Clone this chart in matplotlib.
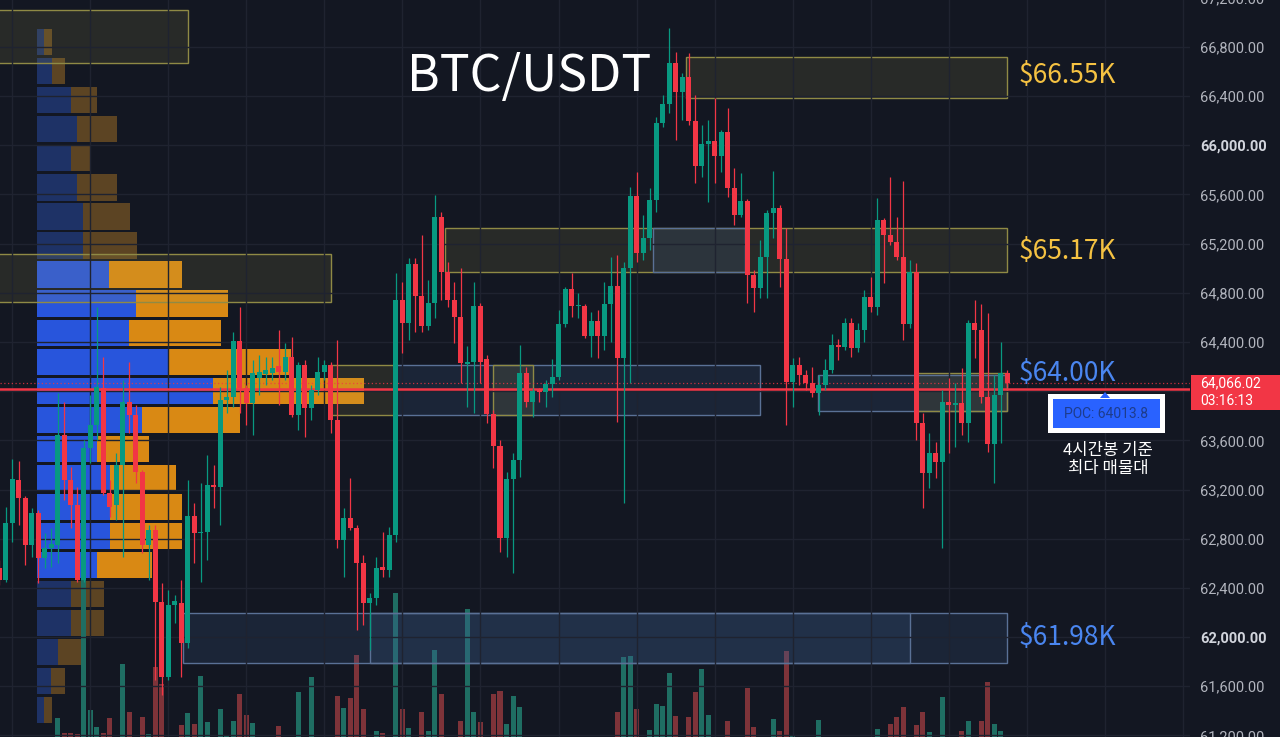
import numpy as np
import matplotlib.pyplot as plt
from matplotlib.patches import Rectangle, Polygon

plt.rcParams['font.family'] = ['Noto Sans CJK KR', 'DejaVu Sans']

# 4h candles, oldest first (prices in USDT)
opens = [62561, 62464, 62927, 63277, 63131, 62748, 63009, 62643, 62724, 62748,
         63643, 63277, 63074, 62464, 63537, 63725, 64026, 63171, 63074, 63399,
         63912, 63806, 63342, 62748, 62870, 62285, 61675, 62260, 62277, 61951,
         62984, 62846, 62854, 63237, 63220, 63928, 63952, 64408, 64026, 63904,
         64107, 64140, 64148, 64205, 64156, 64278, 63806, 64213, 63863, 64009,
         64156, 64213, 63765, 62789, 62968, 62887, 62602, 62277, 62317, 62569,
         62545, 62830, 64742, 64554, 65034, 64774, 64530, 64717, 65417, 64969,
         64742, 64603, 64221, 64237, 64693, 64262, 63814, 63554, 62805, 63285,
         63440, 64148, 63912, 64009, 63993, 64058, 64115, 64546, 64831, 64693,
         64693, 64449, 64571, 64449, 64709, 64855, 64270, 65002, 65588, 65124,
         65246, 65555, 66181, 66336, 66670, 66434, 66556, 66198, 65832, 66011,
         66035, 65913, 66108, 65653, 65433, 65547, 64945, 64839, 65091, 65449,
         65490, 65075, 64074, 64213, 64131, 64066, 63985, 64050, 64172, 64375,
         64359, 64554, 64351, 64497, 64766, 64685, 65392, 65270, 65213, 65091,
         64546, 64969, 63741, 63334, 63497, 63424, 63912, 63887, 63904, 63741,
         64554, 64497, 63952, 63570, 63969, 64148]
highs = [62626, 63058, 63448, 63432, 63147, 63049, 63033, 62846, 62887, 63985,
         63912, 63383, 63220, 63603, 63969, 64685, 64278, 63277, 63497, 64091,
         64237, 63887, 63359, 62911, 62911, 62439, 62382, 62342, 62464, 63277,
         63090, 63253, 63481, 63399, 64034, 64172, 64481, 64685, 64050, 64253,
         64294, 64278, 64278, 64497, 64392, 64441, 64237, 64253, 64050, 64278,
         64253, 64237, 64416, 63049, 63294, 62911, 62667, 62358, 62651, 62854,
         62895, 64961, 64888, 65083, 65083, 65270, 64904, 65596, 65457, 65051,
         64888, 65002, 64367, 64888, 64717, 64294, 63847, 63603, 63342, 63497,
         64375, 64196, 64026, 64026, 64091, 64262, 64660, 64847, 64961, 64798,
         64709, 64644, 64660, 64888, 65091, 65108, 65051, 65661, 65783, 65433,
         65653, 66230, 66409, 66954, 66759, 66588, 66751, 66409, 66165, 66206,
         66385, 66124, 66303, 65815, 65775, 65563, 64986, 65230, 65474, 65791,
         65514, 65327, 64270, 64278, 64172, 64196, 64131, 64262, 64465, 64424,
         64595, 64595, 64554, 64823, 64929, 65571, 65409, 65742, 65417, 65710,
         65067, 65043, 63822, 63660, 63586, 64009, 64107, 64066, 64188, 64579,
         64742, 64709, 64636, 64131, 64400, 64172]
lows = [62423, 62447, 62773, 62911, 62586, 62651, 62439, 62561, 62569, 62602,
        63114, 62887, 62447, 62447, 63415, 63603, 63155, 62976, 62952, 62651,
        63660, 63253, 62683, 62464, 61650, 61528, 61650, 62114, 61675, 61911,
        62602, 62447, 62626, 63049, 62911, 63822, 63871, 63822, 63725, 63643,
        63969, 64050, 64091, 63887, 64091, 63790, 63684, 63627, 63765, 63969,
        64091, 63660, 62724, 62488, 62870, 62057, 62098, 61894, 62260, 62488,
        62488, 62773, 64310, 64416, 64481, 64481, 64497, 64595, 64742, 64685,
        64392, 64066, 63871, 63822, 64066, 63741, 63375, 62692, 62651, 62521,
        63302, 63871, 63790, 63912, 63871, 63952, 64091, 64522, 64603, 64595,
        64432, 64278, 64270, 64335, 64400, 63749, 63090, 64066, 65051, 65067,
        65148, 65457, 66149, 66263, 66043, 66206, 66165, 65693, 65742, 65539,
        65693, 65783, 65579, 65352, 65417, 64717, 64644, 64758, 64758, 65246,
        64847, 63725, 63871, 64050, 64009, 63952, 63806, 64009, 64148, 64253,
        64335, 64278, 64318, 64400, 64644, 64620, 64880, 65189, 65067, 64416,
        64514, 63603, 63049, 63212, 63294, 62724, 63497, 63546, 63643, 63586,
        64270, 63904, 63505, 63253, 63578, 64034]
closes = [62464, 62927, 63285, 63131, 62748, 63009, 62643, 62724, 62757, 63643,
          63277, 63074, 62464, 63537, 63725, 64034, 63171, 63058, 63399, 63912,
          63806, 63342, 62748, 62870, 62285, 61675, 62260, 62293, 61951, 62984,
          62846, 62854, 63237, 63220, 63928, 63952, 64408, 64026, 63904, 64148,
          64156, 64172, 64188, 64156, 64278, 63806, 64213, 63863, 64009, 64156,
          64213, 63765, 62789, 62968, 62887, 62602, 62277, 62317, 62561, 62545,
          62830, 64742, 64554, 65034, 64774, 64530, 64717, 65417, 64969, 64742,
          64603, 64229, 64237, 64693, 64237, 63814, 63554, 62805, 63285, 63440,
          64148, 63912, 64001, 63993, 64058, 64115, 64546, 64831, 64693, 64701,
          64449, 64571, 64449, 64709, 64855, 64270, 65002, 65588, 65124, 65246,
          65555, 66181, 66336, 66670, 66434, 66556, 66198, 65832, 66011, 66035,
          65913, 66108, 65653, 65433, 65547, 64945, 64839, 65091, 65449, 65490,
          65075, 64074, 64213, 64131, 64066, 63985, 64050, 64172, 64375, 64359,
          64554, 64351, 64497, 64766, 64685, 65392, 65270, 65213, 65091, 64546,
          64969, 63741, 63334, 63497, 63424, 63912, 63887, 63904, 63741, 64554,
          64497, 63952, 63570, 63969, 64148, 64066.02]

# visible part of the volume bars (candle index -> height, same scale as the chart bottom)
vol_idx = [9, 10, 11, 12, 13, 14, 15, 16, 17, 19, 20, 22, 23, 24, 25, 28, 29, 30, 31, 32,
           34, 35, 36, 37, 38, 39, 43, 46, 48, 52, 53, 54, 55, 56, 58, 59, 61, 62, 63, 65,
           66, 67, 68, 71, 72, 73, 74, 76, 77, 78, 79, 80, 95, 96, 97, 98, 100, 101, 102, 103,
           104, 106, 107, 108, 109, 112, 115, 116, 119, 120, 121, 122, 126, 135, 137, 138, 139, 141, 142, 143,
           145, 148, 149, 151, 152, 153, 154]
vol_val = [19, 4, 4, 3, 158, 27, 10, 4, 19, 73, 25, 20, 3, 70, 53, 12, 24, 13, 61, 15,
           28, 1, 16, 43, 22, 14, 11, 45, 60, 41, 29, 39, 82, 28, 6, 4, 144, 28, 9, 25,
           6, 87, 43, 16, 128, 25, 15, 43, 46, 13, 41, 30, 25, 80, 81, 28, 7, 33, 31, 64,
           21, 20, 45, 68, 22, 16, 49, 10, 18, 6, 86, 1, 17, 8, 13, 20, 30, 12, 25, 5,
           40, 6, 16, 16, 55, 13, 6]

# fixed range volume profile
vp_price = [66837, 66601, 66365, 66129, 65893, 65657, 65421, 65185, 64949, 64713, 64477, 64241,
            64005, 63769, 63533, 63297, 63061, 62825, 62589, 62353, 62117, 61881, 61645, 61409]
vp_up = [7, 15, 34, 40, 34, 40, 46, 46, 72, 99, 92, 131, 176, 105, 60, 73, 73, 73, 60, 34, 34, 21, 14, 7]
vp_down = [8, 13, 26, 40, 20, 40, 47, 54, 73, 92, 92, 123, 151, 98, 52, 66, 72, 72, 55, 33, 33, 24, 14, 8]
vp_in_area = [False] * 8 + [True] * 11 + [False] * 5

# zones: (left candle, right candle, top price, bottom price, kind)
zones = [
    (-2, 29.0, 67101, 66669, 'y'),
    (-2, 51.0, 65116, 64725, 'y'),
    (105.6, 154.9, 66718, 66385, 'y'),
    (68.5, 154.9, 65327, 64969, 'y'),
    (100.5, 114.7, 65327, 64969, 'b'),
    (50.9, 60.9, 64213, 63806, 'y'),
    (60.9, 117.0, 64213, 63806, 'b'),
    (75.9, 82.1, 64213, 63806, 'y'),
    (125.9, 154.9, 64131, 63838, 'b'),
    (141.1, 154.9, 64148, 63838, 'y'),
    (28.3, 140.0, 62195, 61789, 'b'),
    (57.0, 154.9, 62195, 61789, 'b'),
]

levels = ['$66.55K', '$65.17K', '$64.00K', '$61.98K']
level_y = [75, 252, 373, 637]
level_col = ['#F5C242', '#F5C242', '#4A86F0', '#4A86F0']

poc = 64013.8
last_price = 64066.02

BG = '#131722'
GRID = '#1f2330'
UP = '#089981'
DOWN = '#F23645'

W, H = 1280, 737
fig = plt.figure(figsize=(12.8, 7.37), dpi=100, facecolor=BG)
ax = fig.add_axes([0, 0, 1190 / W, 1])
axp = ax.twiny()
axv = ax.twinx()
axp.set_zorder(1)
axv.set_zorder(2)
ax.set_zorder(3)
ax.patch.set_visible(False)

x = np.arange(len(opens))
o = np.array(opens)
c = np.array(closes)
hi = np.array(highs)
lo = np.array(lows)
up = c >= o
cols = np.where(up, UP, DOWN)

ax.set_xlim(0.123, 183.09)
ax.set_ylim(61187, 67182)

# profile (left)
blue = ['#2855DC' if a else '#1E3266' for a in vp_in_area]
orange = ['#D98914' if a else '#5C4423' for a in vp_in_area]
axp.barh(vp_price, vp_up, height=212, left=0, color=blue)
axp.barh(vp_price, vp_down, height=212, left=vp_up, color=orange)
axp.set_xlim(-37, 1153)
axp.set_xticks([])
for s in axp.spines.values():
    s.set_visible(False)

# volume (bottom)
vcol = ['#1f6e63' if closes[i] >= opens[i] else '#7e3339' for i in vol_idx]
axv.bar(vol_idx, vol_val, width=0.77, color=vcol)
axv.set_ylim(0, 737)
axv.set_yticks([])
for s in axv.spines.values():
    s.set_visible(False)

# zones
for x0, x1, top, bot, kind in zones:
    if kind == 'y':
        fc, ec, al = '#b8ab55', '#8f8a45', 0.13
    else:
        fc, ec, al = '#3d5f8f', '#5a7196', 0.20
    ax.add_patch(Rectangle((x0, bot), x1 - x0, top - bot, facecolor=fc, alpha=al, zorder=1))
    ax.add_patch(Rectangle((x0, bot), x1 - x0, top - bot, facecolor='none', edgecolor=ec, lw=1, zorder=1.1))

# POC line and last price line
ax.axhline(poc, color='#F23645', lw=1.8, zorder=2)
ax.axhline(last_price, color='#F23645', lw=0.9, ls=(0, (1, 2)), alpha=0.8, zorder=2)

# candles
ax.vlines(x, lo, hi, colors=cols, lw=0.9, zorder=3)
body = np.maximum(np.abs(c - o), 12)
ax.bar(x, body, bottom=np.minimum(o, c), width=0.77, color=cols, zorder=4)

# grid + price scale (64,000 sits under the last-price tag, so it is left blank)
ax.set_xticks(np.arange(2, 183, 12))
ax.set_xticklabels([])
ticks = np.arange(61200, 67000, 400)
ax.set_yticks(ticks, ['' if t == 64000 else f'{t:,.2f}' for t in ticks])
ax.yaxis.tick_right()
ax.tick_params(axis='both', length=0)
ax.tick_params(axis='y', pad=7.5, labelcolor='#B2B5BE', labelsize=10.5)
for lbl, t in zip(ax.get_yticklabels(), ticks):
    lbl.set_fontfamily(['Roboto', 'DejaVu Sans'])
    if t in (66000, 62000):
        lbl.set_fontweight('bold')
        lbl.set_color('#D1D4DC')
ax.grid(True, color=GRID, lw=1)
for s in ax.spines.values():
    s.set_visible(False)
fig.text(1200 / W, 1 + 1 / H, '67,200.00', color='#B2B5BE', fontsize=10.5,
         family=['Roboto', 'DejaVu Sans'], va='center', ha='left')

# last price tag
fig.add_artist(Rectangle((1191 / W, 1 - 410 / H), 89 / W, 35 / H, transform=fig.transFigure,
                         facecolor='#F23645', edgecolor='none', zorder=10))
fig.text(1200 / W, 1 - 383 / H, '64,066.02', color='white', fontsize=10,
         family=['Roboto', 'DejaVu Sans'], va='center', ha='left', zorder=11)
fig.text(1200 / W, 1 - 401 / H, '03:16:13', color='white', fontsize=10,
         family=['Roboto', 'DejaVu Sans'], va='center', ha='left', zorder=11)

# title and level labels
fig.text(407 / W, 1 - 77 / H, 'BTC/USDT', color='white', fontsize=36, fontweight='medium',
         va='center', ha='left', zorder=11)
for lab, yy, col in zip(levels, level_y, level_col):
    fig.text(1019 / W, 1 - yy / H, lab, color=col, fontsize=19, va='center', ha='left', zorder=11)

# POC callout
fig.add_artist(Rectangle((1048 / W, 1 - 433 / H), 117 / W, 39 / H, transform=fig.transFigure,
                         facecolor='white', edgecolor='none', zorder=10))
fig.add_artist(Rectangle((1053 / W, 1 - 428 / H), 107 / W, 29 / H, transform=fig.transFigure,
                         facecolor='#2962FF', edgecolor='none', zorder=10.5))
fig.add_artist(Polygon([[1100 / W, 1 - 398 / H], [1110 / W, 1 - 398 / H], [1105 / W, 1 - 392 / H]],
                       closed=True, transform=fig.transFigure, facecolor='#2962FF',
                       edgecolor='none', zorder=10.5))
fig.text(1106 / W, 1 - 414 / H, 'POC: 64013.8', color='#1d3c8c', fontsize=10,
         family=['Roboto', 'DejaVu Sans'], va='center', ha='center', zorder=11)
fig.text(1108 / W, 1 - 450 / H, '4시간봉 기준', color='white', fontsize=12, va='center',
         ha='center', zorder=11)
fig.text(1108 / W, 1 - 468 / H, '최다 매물대', color='white', fontsize=12, va='center',
         ha='center', zorder=11)

fig.savefig('out.png', dpi=100, facecolor=BG)
